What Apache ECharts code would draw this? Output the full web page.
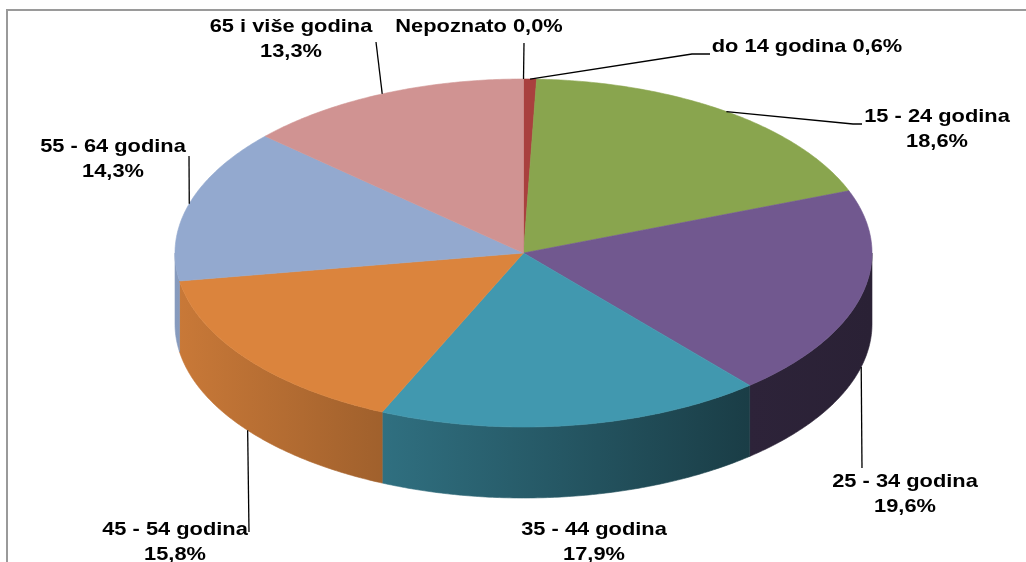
<!DOCTYPE html>
<html>
<head>
<meta charset="utf-8">
<script src="https://cdn.jsdelivr.net/npm/echarts@6/dist/echarts.min.js"></script>
<style>
  html, body { margin: 0; padding: 0; background: #fff; }
  #main { width: 1026px; height: 562px; }
</style>
</head>
<body>
<div id="main"></div>
<script>
// dobne skupine, redom od vrha u smjeru kazaljke na satu
const categories = ['do 14 godina', '15 - 24 godina', '25 - 34 godina', '35 - 44 godina',
  '45 - 54 godina', '55 - 64 godina', '65 i više godina', 'Nepoznato']
// udio u %
const shares = [0.6, 18.6, 19.6, 17.9, 15.8, 14.3, 13.3, 0.0]

// izgled
const colors = ['#A9403E', '#89A54E', '#71588F', '#4198AF', '#DB843D', '#93A9CF', '#D09392', '#7F7F7F']
const pie = { cx: 523.5, cy: 253, rx: 348.5, ry: 174, depth: 71 }
// položaj natpisa (sredina prvog retka) i kraj linije
const labelSpots = [
  { x: 807, y: 47, oneLine: true, leader: [[692, 54], [710, 54]] },
  { x: 937, y: 117, leader: [[853, 124], [862, 124]] },
  { x: 905, y: 482, leader: [[862, 468]] },
  { x: 594, y: 530, leader: null },
  { x: 175, y: 530, leader: [[249, 532]] },
  { x: 113, y: 147, leader: [[189, 156]] },
  { x: 291, y: 27, leader: [[376, 42]] },
  { x: 479, y: 27, oneLine: true, leader: [[524, 43]] }
]

const total = shares.reduce((s, v) => s + v, 0)
const starts = []
shares.reduce((acc, v, i) => { starts[i] = acc; return acc + v }, 0)

function angleAt (v) { return v / total * Math.PI * 2 }
function pt (t) { return [pie.cx + pie.rx * Math.sin(t), pie.cy - pie.ry * Math.cos(t)] }
function arc (a, b) {
  const n = Math.max(2, Math.ceil((b - a) / 0.01))
  const pts = []
  for (let k = 0; k <= n; k++) pts.push(pt(a + (b - a) * k / n))
  return pts
}
function shade (hex, f) {
  const n = parseInt(hex.slice(1), 16)
  const r = Math.round(((n >> 16) & 255) * f), g = Math.round(((n >> 8) & 255) * f), b = Math.round((n & 255) * f)
  return 'rgb(' + r + ',' + g + ',' + b + ')'
}
function wallFill (hex) {
  return {
    type: 'linear', global: true,
    x: pie.cx - pie.rx, y: 0, x2: pie.cx + pie.rx, y2: 0,
    colorStops: [
      { offset: 0, color: shade(hex, 0.92) },
      { offset: 0.825, color: shade(hex, 0.4) },
      { offset: 1, color: shade(hex, 0.37) }
    ]
  }
}

function renderWall (params, api) {
  const i = params.dataIndex
  const a = angleAt(starts[i]), b = angleAt(starts[i] + api.value(0))
  const lo = Math.max(a, Math.PI / 2), hi = Math.min(b, Math.PI * 1.5)
  if (hi <= lo) return { type: 'group', children: [] }
  const top = arc(lo, hi)
  const bottom = top.map(p => [p[0], p[1] + pie.depth]).reverse()
  return {
    type: 'polygon',
    shape: { points: top.concat(bottom) },
    style: { fill: wallFill(colors[i]), stroke: wallFill(colors[i]), lineWidth: 0.6 }
  }
}

function renderTop (params, api) {
  const i = params.dataIndex
  const v = api.value(0)
  if (v <= 0) return { type: 'group', children: [] }
  const a = angleAt(starts[i]), b = angleAt(starts[i] + v)
  return {
    type: 'polygon',
    shape: { points: [[pie.cx, pie.cy]].concat(arc(a, b)) },
    style: { fill: colors[i], stroke: colors[i], lineWidth: 0.6 }
  }
}

function renderLabel (params, api) {
  const i = params.dataIndex
  const v = api.value(0)
  const spot = labelSpots[i]
  const mid = angleAt(starts[i] + v / 2)
  const anchor = pt(mid)
  if (Math.cos(mid) < 0) anchor[1] += pie.depth
  const pct = v.toFixed(1).replace('.', ',') + '%'
  const children = []
  if (spot.leader) {
    children.push({
      type: 'polyline',
      shape: { points: [anchor].concat(spot.leader) },
      style: { stroke: '#000', lineWidth: 1.3, fill: null }
    })
  }
  children.push({
    type: 'text',
    x: spot.x, y: spot.y - 12.5,
    scaleX: 1.18,
    style: {
      text: categories[i] + (spot.oneLine ? ' ' : '\n') + pct,
      fill: '#000',
      font: 'bold 18.5px "Liberation Sans", Arial, sans-serif',
      align: 'center',
      verticalAlign: 'top',
      lineHeight: 25
    }
  })
  return { type: 'group', children: children }
}

const chart = echarts.init(document.getElementById('main'))
chart.setOption({
  animation: false,
  graphic: [{
    type: 'rect',
    shape: { x: 7, y: 10, width: 1100, height: 700 },
    style: { fill: null, stroke: '#9a9a9a', lineWidth: 2 },
    silent: true
  }],
  series: [
    { type: 'custom', coordinateSystem: 'none', z: 1, data: shares, renderItem: renderWall },
    { type: 'custom', coordinateSystem: 'none', z: 2, data: shares, renderItem: renderTop },
    { type: 'custom', coordinateSystem: 'none', z: 3, data: shares, renderItem: renderLabel }
  ]
})
</script>
</body>
</html>
